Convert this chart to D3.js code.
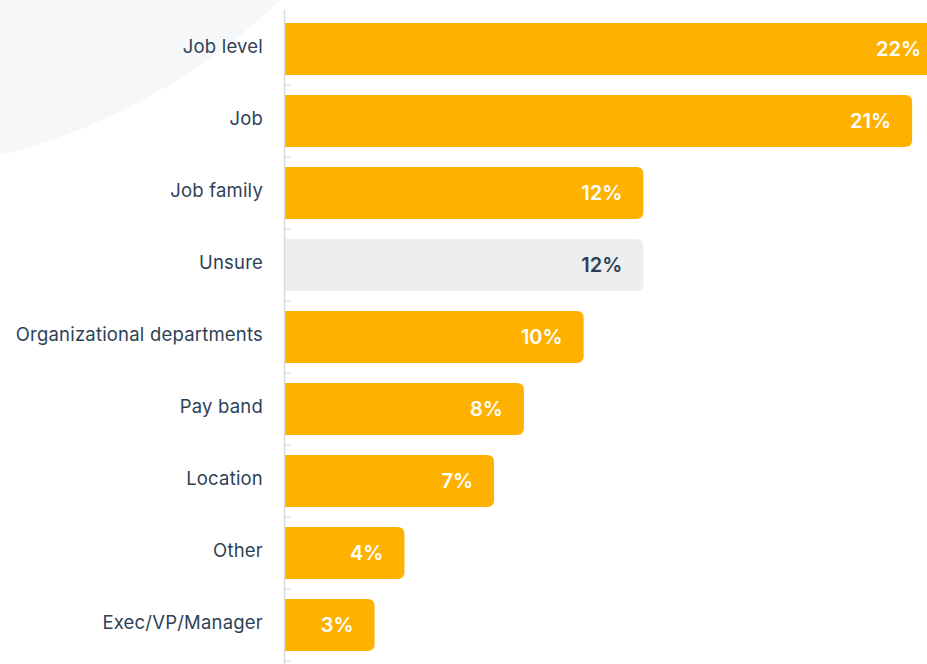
<!DOCTYPE html>
<html>
<head>
<meta charset="utf-8">
<script src="https://cdn.jsdelivr.net/npm/d3@7"></script>
<style>
  html, body { margin: 0; padding: 0; background: #ffffff; overflow: hidden; }
  svg { display: block; font-family: Inter, "Noto Sans", sans-serif; }
</style>
</head>
<body>
<svg id="chart" width="927" height="664"></svg>
<script>
// Share of respondents by how pay ranges are grouped
const categories = ["Job level", "Job", "Job family", "Unsure", "Organizational departments", "Pay band", "Location", "Other", "Exec/VP/Manager"];
const values = [22, 21, 12, 12, 10, 8, 7, 4, 3];
const valueLabels = ["22%", "21%", "12%", "12%", "10%", "8%", "7%", "4%", "3%"];
const mutedCategories = ["Unsure"];

const W = 927, H = 664;
const svg = d3.select("#chart");

// decorative soft circle in the top-left corner
svg.append("circle")
  .attr("cx", -152).attr("cy", -450).attr("r", 624)
  .attr("fill", "#f5f7f9");

const x = d3.scaleLinear().domain([0, 22]).range([285, 942]);
const y = d3.scaleBand().domain(categories).range([13, 661]).paddingInner(0.278).paddingOuter(0.139);

const rows = categories.map((c, i) => ({ cat: c, v: values[i], label: valueLabels[i], muted: mutedCategories.includes(c) }));

// bars: square at the axis, rounded at the end
const r = 7;
function barPath(d) {
  const x0 = x(0), x1 = x(d.v), y0 = y(d.cat), h = y.bandwidth();
  return `M${x0},${y0}H${x1 - r}Q${x1},${y0} ${x1},${y0 + r}V${y0 + h - r}Q${x1},${y0 + h} ${x1 - r},${y0 + h}H${x0}Z`;
}
svg.append("g").selectAll("path").data(rows).join("path")
  .attr("d", barPath)
  .attr("fill", d => d.muted ? "#eceef0" : "#ffb100");

// value labels inside the bar ends
svg.append("g").selectAll("text").data(rows).join("text")
  .attr("x", d => x(d.v) - 21)
  .attr("y", d => y(d.cat) + y.bandwidth() / 2)
  .attr("dy", "0.36em")
  .attr("text-anchor", "end")
  .attr("font-size", 20)
  .attr("font-weight", 600)
  .attr("fill", d => d.muted ? "#2d3f52" : "#ffffff")
  .text(d => d.label);

// category axis with ticks at the band boundaries
const axisG = svg.append("g");
const bounds = categories.map(c => y(c) - y.step() * y.paddingInner() / 2).concat([661]);
axisG.append("line")
  .attr("x1", 284.5).attr("x2", 284.5).attr("y1", 10).attr("y2", H)
  .attr("stroke", "#d6dbe1").attr("stroke-width", 1.5);
axisG.selectAll(".tick").data(bounds.slice(1)).join("line")
  .attr("x1", 285).attr("x2", 291)
  .attr("y1", d => d).attr("y2", d => d)
  .attr("stroke", "#d6dbe1").attr("stroke-width", 1.2);

svg.append("g").selectAll("text").data(categories).join("text")
  .attr("x", 263)
  .attr("y", d => y(d) + y.bandwidth() / 2)
  .attr("dy", "0.2em")
  .attr("text-anchor", "end")
  .attr("font-size", 18.5)
  .attr("letter-spacing", 0.2)
  .attr("fill", "#2e4257")
  .text(d => d);
</script>
</body>
</html>
